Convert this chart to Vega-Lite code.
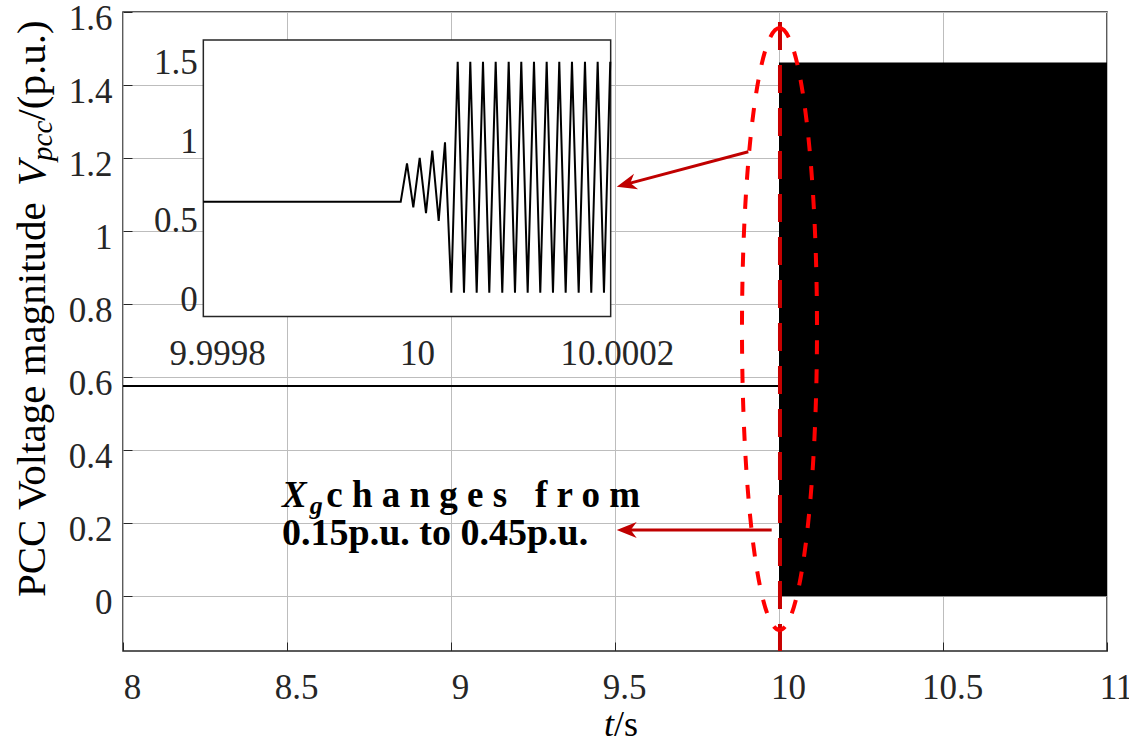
{
  "$schema": "https://vega.github.io/schema/vega-lite/v6.json",
  "width": 984,
  "height": 639,
  "autosize": {"type": "none"},
  "padding": {"left": 123, "top": 12, "right": 22, "bottom": 94},
  "background": "white",
  "config": {
    "font": "Liberation Serif",
    "view": {"stroke": "#262626", "strokeWidth": 1.5},
    "text": {"font": "Liberation Serif"},
    "axis": {"labelFont": "Liberation Serif", "labelColor": "#262626", "labelFontSize": 35, "labelOverlap": false, "labelFlush": false, "labelBound": false}
  },
  "datasets": {
    "pre": [{"t": 8, "v": 0.5757}, {"t": 10, "v": 0.5757}],
    "block": [{"t": 10, "t2": 11, "v": 0, "v2": 1.462}],
    "marker": [{"t": 10.003, "v": 1.5726, "v2": -0.15}],
    "ellipse": [{"t": 10.0015, "v": 0.7318}],
    "arrows": [
      {"t": 9.9064, "v": 1.2173, "t2": 9.5348, "v2": 1.1286},
      {"t": 9.9777, "v": 0.1813, "t2": 9.5357, "v2": 0.1813}
    ],
    "head1": [{"t": 9.5348, "v": 1.1286}],
    "head2": [{"t": 9.5357, "v": 0.1813}],
    "noteX": [{"t": 8.4848, "v": 0.2443, "label": "X"}],
    "noteG": [{"t": 8.569, "v": 0.2246, "label": "g"}],
    "noteL1": [{"t": 8.6197, "v": 0.2443, "label": "c h a n g e s \u00a0 f r o m"}],
    "noteL2": [{"t": 8.4848, "v": 0.1402, "label": "0.15p.u. to 0.45p.u."}],
    "ytitle1": [{"t": 7.7622, "v": -0.0022, "label": "PCC Voltage magnitude "}],
    "ytitleV": [{"t": 7.7622, "v": 1.1237, "label": "V"}],
    "ytitleSub": [{"t": 7.7835, "v": 1.1921, "label": "pcc"}],
    "ytitle2": [{"t": 7.7622, "v": 1.3025, "label": "/(p.u.)"}],
    "xtitleT": [{"t": 9.497, "v": -0.3829, "label": "t"}],
    "xtitleS": [{"t": 9.497, "v": -0.3829, "label": "/s"}],
    "insetBox": [{"t": 9.9997963, "t2": 10.0002037, "v": -0.15, "v2": 1.6}],
    "insetH": [{"v": 0}, {"v": 0.5}, {"v": 1}, {"v": 1.5}],
    "insetV": [{"t": 9.9998}, {"t": 10}, {"t": 10.0002}],
    "wave": [
      {"t": 9.9997963, "v": 0.575}, {"t": 9.9999937, "v": 0.575},
      {"t": 10.0000000, "v": 0.819}, {"t": 10.0000063, "v": 0.540},
      {"t": 10.0000127, "v": 0.854}, {"t": 10.0000190, "v": 0.503},
      {"t": 10.0000253, "v": 0.899}, {"t": 10.0000317, "v": 0.454},
      {"t": 10.0000380, "v": 0.952}, {"t": 10.0000443, "v": 0},
      {"t": 10.0000507, "v": 1.462}, {"t": 10.0000570, "v": 0},
      {"t": 10.0000633, "v": 1.462}, {"t": 10.0000697, "v": 0},
      {"t": 10.0000760, "v": 1.462}, {"t": 10.0000823, "v": 0},
      {"t": 10.0000887, "v": 1.462}, {"t": 10.0000953, "v": 0},
      {"t": 10.0001017, "v": 1.462}, {"t": 10.0001080, "v": 0},
      {"t": 10.0001143, "v": 1.462}, {"t": 10.0001207, "v": 0},
      {"t": 10.0001270, "v": 1.462}, {"t": 10.0001333, "v": 0},
      {"t": 10.0001397, "v": 1.462}, {"t": 10.0001460, "v": 0},
      {"t": 10.0001523, "v": 1.462}, {"t": 10.0001587, "v": 0},
      {"t": 10.0001650, "v": 1.462}, {"t": 10.0001717, "v": 0},
      {"t": 10.0001780, "v": 1.462}, {"t": 10.0001843, "v": 0},
      {"t": 10.0001907, "v": 1.462}, {"t": 10.0001970, "v": 0},
      {"t": 10.0002033, "v": 1.462}
    ]
  },
  "layer": [
    {
      "encoding": {
        "x": {"field": "t", "type": "quantitative",
          "scale": {"domain": [8, 11], "zero": false, "nice": false},
          "axis": {"title": null, "values": [8, 8.5, 9, 9.5, 10, 10.5, 11], "labelExpr": "format(datum.value, '~g')", "grid": true, "gridColor": "#bdbdbd", "domain": false, "ticks": true, "tickSize": -9, "tickColor": "#262626", "labelPadding": 28.5, "labelOffset": 9}},
        "y": {"field": "v", "type": "quantitative",
          "scale": {"domain": [-0.15, 1.6], "zero": false, "nice": false},
          "axis": {"title": null, "values": [0, 0.2, 0.4, 0.6, 0.8, 1, 1.2, 1.4, 1.6], "labelExpr": "format(datum.value, '~g')", "grid": true, "gridColor": "#bdbdbd", "domain": false, "ticks": true, "tickSize": -9, "tickColor": "#262626", "labelPadding": 20, "labelOffset": 6.5}}
      },
      "layer": [
        {"data": {"name": "pre"}, "mark": {"type": "line", "color": "black", "strokeWidth": 2}},
        {"data": {"name": "block"}, "mark": {"type": "rect", "color": "black"},
          "encoding": {"x2": {"field": "t2"}, "y2": {"field": "v2"}}},
        {"data": {"name": "marker"}, "mark": {"type": "rule", "color": "#c80000", "strokeWidth": 4, "strokeDash": [28, 15]},
          "encoding": {"y2": {"field": "v2"}}},
        {"data": {"name": "ellipse"}, "mark": {"type": "point", "shape": "M0,-1 A0.1246,1 0 1,1 0,1 A0.1246,1 0 1,1 0,-1 Z", "size": 362404, "filled": false, "stroke": "#ff0000", "strokeWidth": 4, "strokeDash": [14, 15], "opacity": 1}},
        {"data": {"name": "arrows"}, "mark": {"type": "rule", "color": "#c00000", "strokeWidth": 3},
          "encoding": {"x2": {"field": "t2"}, "y2": {"field": "v2"}}},
        {"data": {"name": "head1"}, "mark": {"type": "point", "shape": "M-1,0 L1,-0.8 L0.4,0 L1,0.8 Z", "size": 400, "filled": true, "color": "#c00000", "opacity": 1, "angle": 345.1}},
        {"data": {"name": "head2"}, "mark": {"type": "point", "shape": "M-1,0 L1,-0.8 L0.4,0 L1,0.8 Z", "size": 400, "filled": true, "color": "#c00000", "opacity": 1, "angle": 0}},
        {"data": {"name": "noteX"}, "mark": {"type": "text", "fontSize": 37, "fontWeight": "bold", "fontStyle": "italic", "align": "left", "baseline": "alphabetic", "color": "black"},
          "encoding": {"text": {"field": "label"}}},
        {"data": {"name": "noteG"}, "mark": {"type": "text", "fontSize": 26, "fontWeight": "bold", "fontStyle": "italic", "align": "left", "baseline": "alphabetic", "color": "black"},
          "encoding": {"text": {"field": "label"}}},
        {"data": {"name": "noteL1"}, "mark": {"type": "text", "fontSize": 37, "fontWeight": "bold", "align": "left", "baseline": "alphabetic", "color": "black"},
          "encoding": {"text": {"field": "label"}}},
        {"data": {"name": "noteL2"}, "mark": {"type": "text", "fontSize": 38, "fontWeight": "bold", "align": "left", "baseline": "alphabetic", "color": "black"},
          "encoding": {"text": {"field": "label"}}},
        {"data": {"name": "ytitle1"}, "mark": {"type": "text", "fontSize": 41, "angle": 270, "align": "left", "baseline": "alphabetic", "color": "black"},
          "encoding": {"text": {"field": "label"}}},
        {"data": {"name": "ytitleV"}, "mark": {"type": "text", "fontSize": 41, "fontStyle": "italic", "angle": 270, "align": "left", "baseline": "alphabetic", "color": "black"},
          "encoding": {"text": {"field": "label"}}},
        {"data": {"name": "ytitleSub"}, "mark": {"type": "text", "fontSize": 29, "fontStyle": "italic", "angle": 270, "align": "left", "baseline": "alphabetic", "color": "black"},
          "encoding": {"text": {"field": "label"}}},
        {"data": {"name": "ytitle2"}, "mark": {"type": "text", "fontSize": 41, "angle": 270, "align": "left", "baseline": "alphabetic", "color": "black"},
          "encoding": {"text": {"field": "label"}}},
        {"data": {"name": "xtitleT"}, "mark": {"type": "text", "fontSize": 36, "fontStyle": "italic", "align": "right", "baseline": "alphabetic", "color": "black"},
          "encoding": {"text": {"field": "label"}}},
        {"data": {"name": "xtitleS"}, "mark": {"type": "text", "fontSize": 36, "align": "left", "baseline": "alphabetic", "color": "black"},
          "encoding": {"text": {"field": "label"}}}
      ]
    },
    {
      "encoding": {
        "x": {"field": "t", "type": "quantitative",
          "scale": {"domain": [9.9997963, 10.0002037], "range": [80.33, 487.67], "zero": false, "nice": false},
          "axis": {"title": null, "orient": "bottom", "offset": -334.6, "values": [9.9998, 10, 10.0002], "labelExpr": "format(datum.value, '.5~f')", "labelFontSize": 35, "grid": false, "domain": false, "ticks": false, "labelPadding": 20.5, "labelOffset": 10}},
        "y": {"field": "v", "type": "quantitative",
          "scale": {"domain": [-0.15, 1.6], "range": [304.4, 27.9], "zero": false, "nice": false},
          "axis": {"title": null, "orient": "left", "offset": -80.33, "values": [0, 0.5, 1, 1.5], "labelExpr": "format(datum.value, '~g')", "labelFontSize": 35, "grid": false, "domain": false, "ticks": false, "labelPadding": 6, "labelOffset": 6.5}}
      },
      "layer": [
        {"data": {"name": "insetBox"}, "mark": {"type": "rect", "fill": "white", "stroke": "#262626", "strokeWidth": 1.5},
          "encoding": {"x2": {"field": "t2"}, "y2": {"field": "v2"}}},
        {"data": {"name": "insetH"}, "mark": {"type": "rule", "color": "#bdbdbd", "strokeWidth": 1},
          "encoding": {"x": {"datum": 9.9997963}, "x2": {"datum": 10.0002037}}},
        {"data": {"name": "insetV"}, "mark": {"type": "rule", "color": "#bdbdbd", "strokeWidth": 1},
          "encoding": {"y": {"datum": -0.15}, "y2": {"datum": 1.6}}},
        {"data": {"name": "wave"}, "mark": {"type": "line", "color": "black", "strokeWidth": 2}}
      ]
    }
  ],
  "resolve": {"scale": {"x": "independent", "y": "independent"}}
}
